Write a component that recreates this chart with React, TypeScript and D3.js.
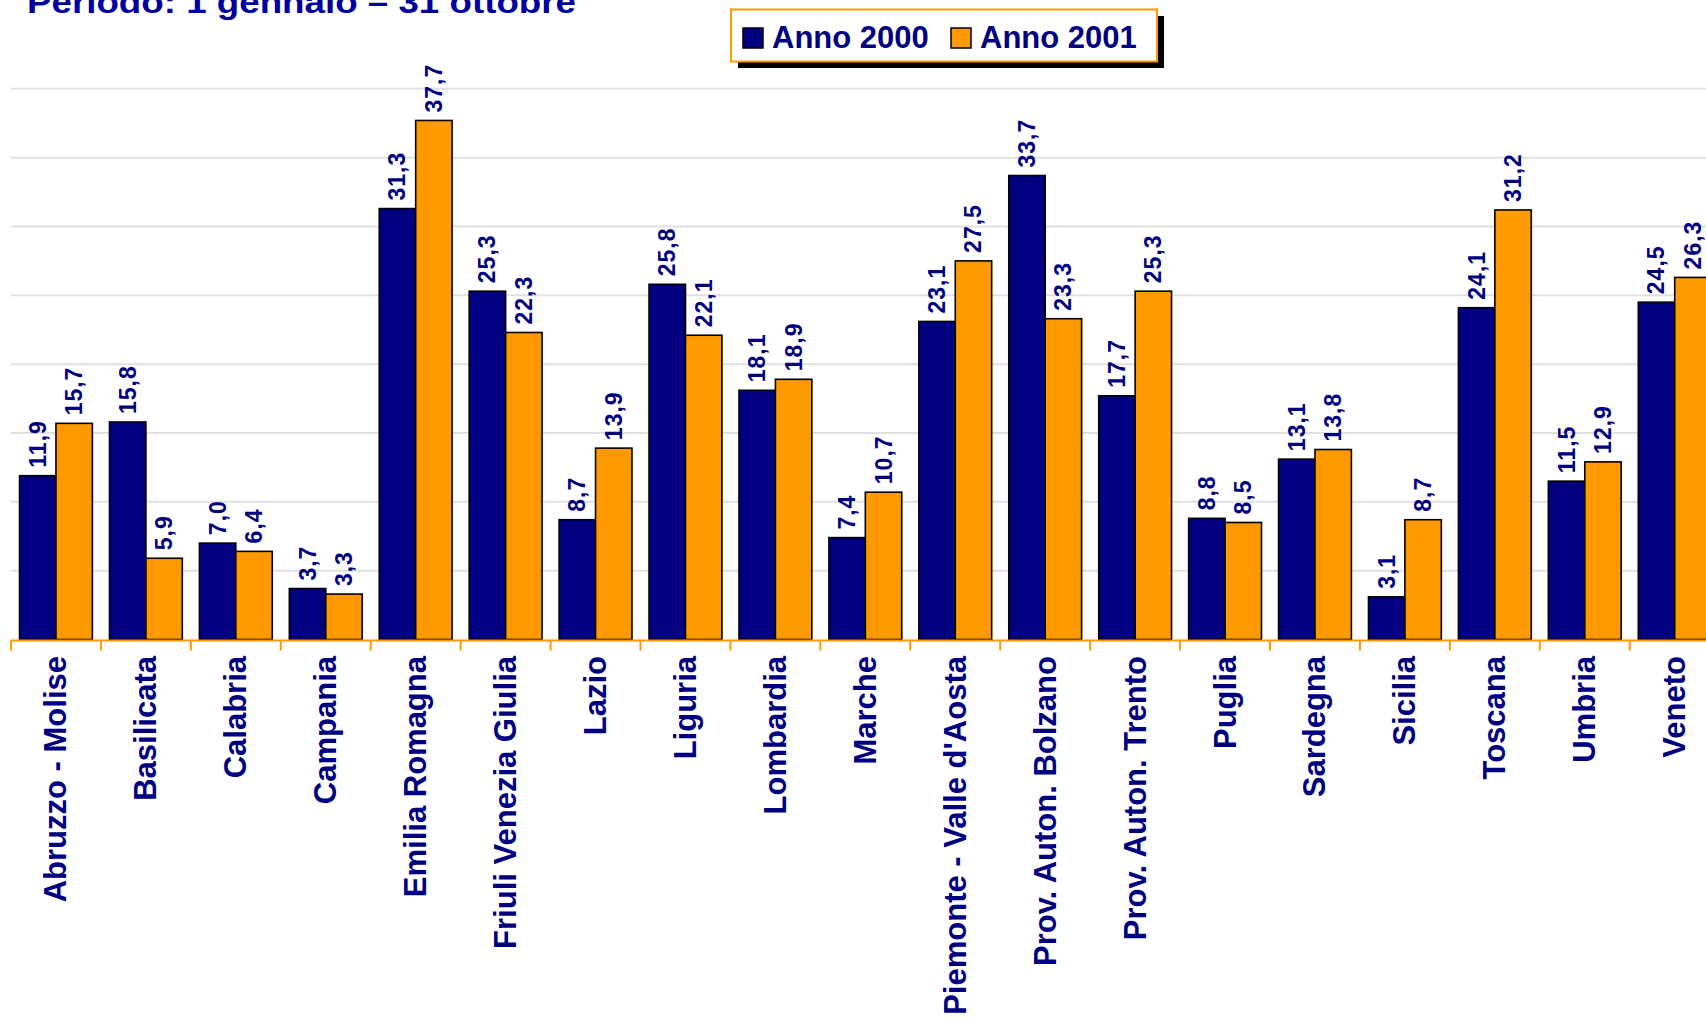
import React from "react";
import * as d3 from "d3";

const categories = [
  "Abruzzo - Molise",
  "Basilicata",
  "Calabria",
  "Campania",
  "Emilia Romagna",
  "Friuli Venezia Giulia",
  "Lazio",
  "Liguria",
  "Lombardia",
  "Marche",
  "Piemonte - Valle d'Aosta",
  "Prov. Auton. Bolzano",
  "Prov. Auton. Trento",
  "Puglia",
  "Sardegna",
  "Sicilia",
  "Toscana",
  "Umbria",
  "Veneto",
];
const anno2000 = [11.9, 15.8, 7.0, 3.7, 31.3, 25.3, 8.7, 25.8, 18.1, 7.4, 23.1, 33.7, 17.7, 8.8, 13.1, 3.1, 24.1, 11.5, 24.5];
const anno2001 = [15.7, 5.9, 6.4, 3.3, 37.7, 22.3, 13.9, 22.1, 18.9, 10.7, 27.5, 23.3, 25.3, 8.5, 13.8, 8.7, 31.2, 12.9, 26.3];
const seriesNames = ["Anno 2000", "Anno 2001"];
const yTicks = [0, 5, 10, 15, 20, 25, 30, 35, 40];
const titleText = "Periodo: 1 gennaio \u2013 31 ottobre";

const NAVY = "#000080";
const ORANGE = "#FF9900";
const FONT = "'Liberation Sans', Arial, sans-serif";

export default function App() {
  const W = 1706;
  const H = 1020;
  const x0 = 11;
  const step = 89.93;
  const x = d3
    .scaleBand<string>()
    .domain(categories)
    .range([x0, x0 + step * categories.length])
    .paddingInner(0.19)
    .paddingOuter(0.095);
  const xs = d3.scaleBand<string>().domain(seriesNames).range([0, x.bandwidth()]);
  const y = d3.scaleLinear().domain([0, 40]).range([639.5, 88.8]);
  const colors = [NAVY, ORANGE];
  const series = [anno2000, anno2001];
  const fmt = (v: number) => d3.format(".1f")(v).replace(".", ",");

  return (
    <svg
      width={W}
      height={H}
      style={{ position: "absolute", left: 0, top: 0, background: "#fff" }}
      fontFamily={FONT}
    >
      <rect width={W} height={H} fill="#fff" />
      <text
        x={27}
        y={13}
        fontSize={32}
        fontWeight="bold"
        fill="#0000A0"
        textLength={549}
        lengthAdjust="spacingAndGlyphs"
      >
        {titleText}
      </text>
      {yTicks.slice(1).map((t) => (
        <line key={t} x1={x0} x2={W} y1={y(t)} y2={y(t)} stroke="#e0e0e0" strokeWidth={2} />
      ))}
      {categories.map((c, i) =>
        series.map((s, k) => {
          const bx = (x(c) as number) + (xs(seriesNames[k]) as number);
          const bw = xs.bandwidth();
          const v = s[i];
          const cx = bx + bw / 2;
          const ty = y(v) - 8;
          return (
            <g key={c + k}>
              <rect
                x={bx}
                y={y(v)}
                width={bw}
                height={y(0) - y(v)}
                fill={colors[k]}
                stroke="#000"
                strokeWidth={1.6}
              />
              <text
                transform={`translate(${cx + 8},${ty}) rotate(-90)`}
                fontSize={23}
                fontWeight="bold"
                fill={NAVY}
                letterSpacing={1}
              >
                {fmt(v)}
              </text>
            </g>
          );
        })
      )}
      <line x1={x0} x2={W} y1={y(0) + 1} y2={y(0) + 1} stroke={ORANGE} strokeWidth={2} />
      {d3.range(categories.length + 1).map((i) => (
        <line
          key={"t" + i}
          x1={x0 + i * step}
          x2={x0 + i * step}
          y1={y(0) + 1}
          y2={y(0) + 11}
          stroke={ORANGE}
          strokeWidth={2}
        />
      ))}
      {categories.map((c) => {
        const cx = (x(c) as number) + x.bandwidth() / 2;
        return (
          <text
            key={"l" + c}
            transform={`translate(${cx + 10.5},656) rotate(-90)`}
            textAnchor="end"
            fontSize={31}
            fontWeight="bold"
            fill={NAVY}
          >
            {c}
          </text>
        );
      })}
      <g>
        <rect x={738} y={16} width={426} height={52} fill="#000" />
        <rect x={731} y={9.5} width={426} height={52} fill="#fff" stroke={ORANGE} strokeWidth={2} />
        <rect x={743} y={28} width={20} height={20} fill={NAVY} stroke="#000" strokeWidth={1.5} />
        <text x={772} y={48} fontSize={31} fontWeight="bold" fill={NAVY}>
          {seriesNames[0]}
        </text>
        <rect x={951} y={28} width={20} height={20} fill={ORANGE} stroke="#000" strokeWidth={1.5} />
        <text x={980} y={48} fontSize={31} fontWeight="bold" fill={NAVY}>
          {seriesNames[1]}
        </text>
      </g>
    </svg>
  );
}
